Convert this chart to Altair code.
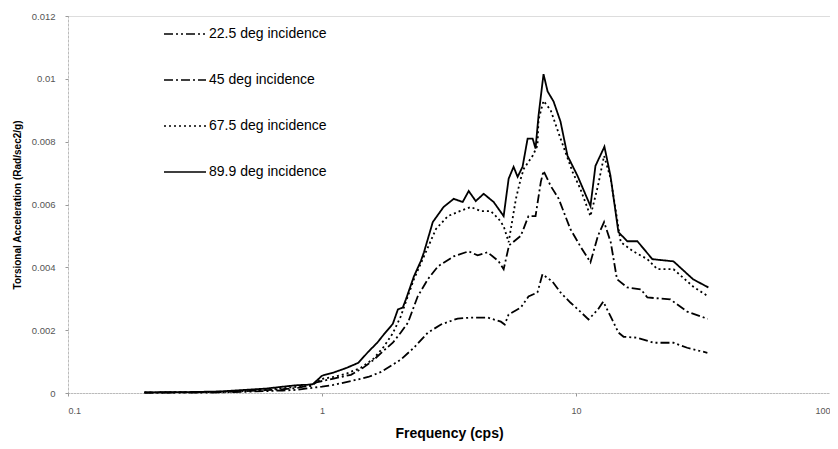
import altair as alt
import pandas as pd

series_names = ["22.5 deg incidence", "45 deg incidence", "67.5 deg incidence", "89.9 deg incidence"]

f_225 = [0.2, 0.3, 0.4, 0.5, 0.6, 0.7, 0.8, 0.88, 1.0, 1.11, 1.3, 1.52, 1.71, 2.04, 2.30, 2.61, 2.94,
         3.42, 3.85, 4.49, 5.06, 5.24, 5.43, 6.06, 6.5, 7.05, 7.38, 8.07, 8.69, 9.5, 10.4, 11.2, 12.2,
         12.8, 13.7, 14.7, 15.4, 17.4, 20.2, 24.2, 27.4, 32.9]
v_225 = [0.00001, 0.00001, 0.00002, 0.00004, 0.00006, 0.00008, 0.0001, 0.00015, 0.0002, 0.00026,
         0.00038, 0.00051, 0.00067, 0.00106, 0.00144, 0.00192, 0.00218, 0.00237, 0.0024, 0.0024,
         0.00227, 0.00218, 0.0025, 0.00272, 0.00307, 0.0032, 0.00378, 0.00355, 0.0032, 0.00288,
         0.00259, 0.00234, 0.00266, 0.00291, 0.00243, 0.00192, 0.00179, 0.00176, 0.0016, 0.0016,
         0.00144, 0.00128]

f_45 = [0.2, 0.3, 0.4, 0.5, 0.6, 0.7, 0.8, 0.9, 0.96, 1.1, 1.3, 1.45, 1.6, 1.75, 1.9, 2.04, 2.18,
        2.38, 2.61, 2.86, 3.30, 3.78, 4.1, 4.49, 4.96, 5.19, 5.45, 6.06, 6.5, 6.93, 7.27, 7.45, 7.95,
        8.55, 9.5, 10.4, 11.4, 12.2, 12.9, 13.7, 14.5, 15.9, 18.0, 19.1, 23.5, 27.4, 33.0]
v_45 = [0.00001, 0.00002, 0.00003, 0.00006, 0.00009, 0.00012, 0.00016, 0.00025, 0.00035, 0.00045,
        0.00058, 0.0008, 0.00106, 0.00135, 0.0016, 0.00192, 0.00224, 0.00307, 0.00362, 0.00403,
        0.00435, 0.00451, 0.00438, 0.00448, 0.00419, 0.00394, 0.0047, 0.005, 0.00563, 0.00563,
        0.00672, 0.00707, 0.00659, 0.00618, 0.00522, 0.00467, 0.00416, 0.005, 0.00544, 0.0048,
        0.00362, 0.00336, 0.0033, 0.00304, 0.00298, 0.00259, 0.00236]

f_675 = [0.2, 0.3, 0.4, 0.5, 0.6, 0.7, 0.8, 0.9, 1.0, 1.11, 1.25, 1.42, 1.6, 1.75, 1.9, 2.04, 2.30,
         2.52, 2.81, 3.13, 3.42, 3.85, 4.22, 4.62, 4.96, 5.19, 5.43, 5.8, 6.06, 6.23, 6.75, 7.05,
         7.12, 7.45, 7.95, 8.69, 9.69, 10.4, 11.4, 12.2, 12.9, 13.7, 15.0, 16.8, 19.1, 20.9, 24.2,
         28.9, 33.2]
v_675 = [0.00002, 0.00003, 0.00004, 0.00008, 0.00011, 0.00015, 0.0002, 0.00022, 0.00045, 0.00051,
         0.00062, 0.0008, 0.0011, 0.00147, 0.0019, 0.00243, 0.00362, 0.00435, 0.00522, 0.00563,
         0.00576, 0.00592, 0.00579, 0.00579, 0.00554, 0.00531, 0.0048, 0.00618, 0.00682, 0.00714,
         0.00755, 0.00787, 0.0087, 0.0093, 0.0090, 0.0081, 0.00704, 0.0065, 0.00563, 0.00659,
         0.00755, 0.00682, 0.0048, 0.00451, 0.00426, 0.00394, 0.00394, 0.00339, 0.00307]

f_899 = [0.2, 0.3, 0.4, 0.5, 0.6, 0.7, 0.8, 0.87, 0.92, 1.0, 1.11, 1.25, 1.39, 1.52, 1.65, 1.75,
         1.9, 1.99, 2.08, 2.14, 2.30, 2.45, 2.52, 2.73, 3.01, 3.30, 3.58, 3.78, 4.03, 4.33, 4.74,
         5.19, 5.43, 5.68, 5.89, 6.16, 6.45, 6.75, 6.93, 7.12, 7.45, 7.73, 8.16, 8.69, 9.26, 10.14,
         11.4, 11.93, 12.94, 13.67, 14.69, 15.93, 17.45, 19.98, 24.2, 28.9, 33.2]
v_899 = [0.00002, 0.00003, 0.00005, 0.0001, 0.00014, 0.0002, 0.00025, 0.00026, 0.00028, 0.00055,
         0.00065, 0.0008, 0.00096, 0.00131, 0.0016, 0.00186, 0.0022, 0.00266, 0.00272, 0.00298,
         0.00371, 0.0042, 0.00448, 0.00544, 0.00592, 0.00618, 0.00608, 0.00643, 0.00611, 0.00634,
         0.00608, 0.00563, 0.00682, 0.0072, 0.00688, 0.0072, 0.0081, 0.0081, 0.00778, 0.00883,
         0.01015, 0.0096, 0.00928, 0.00864, 0.00755, 0.00691, 0.00595, 0.00723, 0.00784, 0.00691,
         0.00512, 0.00483, 0.00483, 0.00426, 0.00419, 0.00362, 0.00336]

x_ticks = [0.1, 1, 10, 100]
y_ticks = [0, 0.002, 0.004, 0.006, 0.008, 0.01, 0.012]

rows = []
for name, fs, vs in zip(series_names, [f_225, f_45, f_675, f_899], [v_225, v_45, v_675, v_899]):
    for i, (f, v) in enumerate(zip(fs, vs)):
        rows.append({"series": name, "freq": f, "acc": v, "order": i})
df = pd.DataFrame(rows)

dashes = [[9, 3, 2, 3, 2, 3], [9, 3, 2, 3], [2, 3], [1, 0]]

chart = alt.Chart(df).mark_line(color="black", strokeWidth=1.8).encode(
    x=alt.X("freq:Q",
            scale=alt.Scale(type="log", domain=[0.1, 100], nice=False),
            axis=alt.Axis(values=x_ticks, format="~g", title="Frequency (cps)", grid=False,
                          labelFont="Liberation Sans", labelFontSize=9, labelColor="#555",
                          titleFont="Liberation Sans", titleFontSize=14, titleFontWeight="bold",
                          titlePadding=11, tickSize=3, tickColor="#999", domainColor="#999",
                          domainDash=[1, 2], labelPadding=10)),
    y=alt.Y("acc:Q",
            scale=alt.Scale(domain=[0, 0.012], nice=False),
            axis=alt.Axis(values=y_ticks, format="~g",
                          title="Torsional Acceleration (Rad/sec2/g)", grid=False,
                          labelFont="Liberation Sans", labelFontSize=9.5, labelColor="#555",
                          titleFont="Liberation Sans", titleFontSize=10, titleFontWeight="bold",
                          titlePadding=9, tickSize=3, tickColor="#999", domainColor="#999",
                          domainDash=[1, 3], labelPadding=10)),
    strokeDash=alt.StrokeDash("series:N",
                              scale=alt.Scale(domain=series_names, range=dashes),
                              legend=alt.Legend(orient="none", legendX=95, legendY=-4, title=None,
                                                symbolType="stroke", symbolSize=1764,
                                                symbolStrokeWidth=1.6, symbolStrokeColor="black",
                                                labelFont="Liberation Sans", labelFontSize=14,
                                                labelColor="black", rowPadding=17, labelOffset=2)),
    detail="series:N",
    order="order:Q",
).properties(
    width=762, height=377,
    autosize=alt.AutoSizeParams(type="none"),
    padding={"left": 60, "top": 8, "right": 0, "bottom": 48},
).configure_view(stroke=None).configure(background="white")

chart.save("out.html", embed_options={"renderer": "svg", "actions": False})
